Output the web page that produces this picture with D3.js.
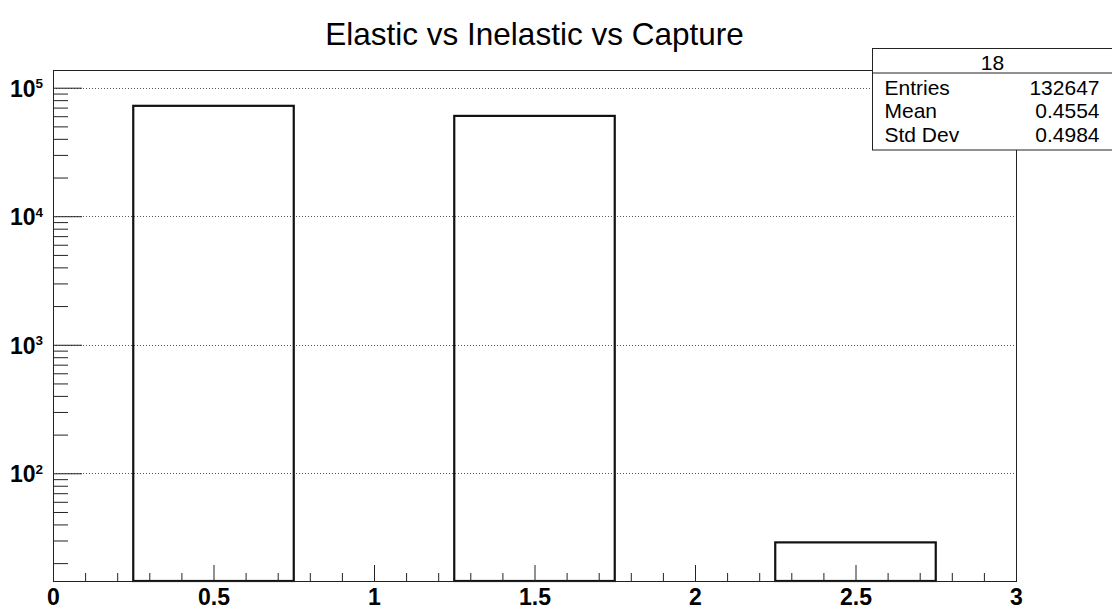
<!DOCTYPE html>
<html>
<head>
<meta charset="utf-8">
<script src="https://cdn.jsdelivr.net/npm/d3@7"></script>
<style>
  body { margin: 0; background: #fff; }
  svg { display: block; font-family: "Liberation Sans", Arial, Helvetica, sans-serif; }
</style>
</head>
<body>
<div id="chart"></div>
<script>
// histogram content (bin centre, count)
const binCenters = [0.5, 1.5, 2.5];
const binCounts = [72269, 60349, 29];
const barWidth = 0.5;

const xMajorTicks = [0, 0.5, 1, 1.5, 2, 2.5, 3];
const xTickLabels = ["0", "0.5", "1", "1.5", "2", "2.5", "3"];
const yDecades = [2, 3, 4, 5];

const statsTitle = "18";
const statNames = ["Entries", "Mean", "Std Dev"];
const statValues = ["132647", "0.4554", "0.4984"];

const title = "Elastic vs Inelastic vs Capture";

var W = 1112, H = 610;
var margin = {top: 70, right: 96, bottom: 29, left: 53};
var width = W - margin.left - margin.right,
    height = H - margin.top - margin.bottom;

var graph = d3.select("#chart").append("svg")
    .attr("width", W)
    .attr("height", H);

var svg = graph.append("g")
    .attr("transform", "translate(" + margin.left + "," + margin.top + ")");

var x = d3.scaleLinear().domain([0, 3]).range([0, width]);
var y = d3.scaleLog().domain([14.52, 137300]).range([height, 0]);

// dotted grid at decades
svg.selectAll(".grid")
    .data(yDecades)
    .enter().append("line")
      .attr("class", "grid")
      .attr("x1", 0).attr("x2", width)
      .attr("y1", function(d) { return Math.round(y(Math.pow(10, d))) + 0.5; })
      .attr("y2", function(d) { return Math.round(y(Math.pow(10, d))) + 0.5; })
      .attr("stroke", "#555")
      .attr("stroke-width", 1)
      .attr("stroke-dasharray", "1,2");

// bars
svg.selectAll(".bar")
    .data(binCenters)
    .enter().append("rect")
      .attr("class", "bar")
      .attr("x", function(d) { return x(d - barWidth / 2); })
      .attr("width", function(d) { return x(d + barWidth / 2) - x(d - barWidth / 2); })
      .attr("y", function(d, i) { return y(binCounts[i]); })
      .attr("height", function(d, i) { return height - y(binCounts[i]); })
      .attr("fill", "none")
      .attr("stroke", "#111")
      .attr("stroke-width", 2.2);

// x axis ticks: minor every 0.1, major every 0.5
var xMinor = d3.range(0, 31).map(function(i) { return i / 10; })
    .filter(function(v) { return Math.abs(v * 2 - Math.round(v * 2)) > 1e-6; });

svg.append("g")
    .attr("transform", "translate(0," + height + ")")
    .call(d3.axisBottom(x).tickValues(xMinor).tickSize(-8).tickFormat(""))
    .call(function(g) { g.select(".domain").remove(); });

var xAxis = svg.append("g")
    .attr("transform", "translate(0," + height + ")")
    .call(d3.axisBottom(x).tickValues(xMajorTicks).tickSize(-16).tickPadding(8)
          .tickFormat(function(d, i) { return xTickLabels[i]; }));
xAxis.select(".domain").remove();
xAxis.selectAll("text")
    .attr("font-size", 23)
    .attr("font-weight", "bold")
    .attr("fill", "#000")
    .attr("font-family", "Liberation Sans, Arial, sans-serif");

// y axis ticks: minor at 2..9 x 10^k, major at decades
var yMinor = [];
[1, 2, 3, 4, 5].forEach(function(k) {
  for (var m = 2; m <= 9; m++) {
    var v = m * Math.pow(10, k);
    if (v >= y.domain()[0] && v <= y.domain()[1]) yMinor.push(v);
  }
});

svg.append("g")
    .call(d3.axisLeft(y).tickValues(yMinor).tickSize(-15).tickFormat(""))
    .call(function(g) { g.select(".domain").remove(); });

var yAxis = svg.append("g")
    .call(d3.axisLeft(y).tickValues(yDecades.map(function(d) { return Math.pow(10, d); }))
          .tickSize(-29).tickPadding(0).tickFormat(""));
yAxis.select(".domain").remove();
yAxis.selectAll(".tick").each(function(d) {
  var t = d3.select(this).append("text")
      .attr("x", -10)
      .attr("y", 8.5)
      .attr("text-anchor", "end")
      .attr("fill", "#000")
      .attr("font-weight", "bold");
  t.append("tspan").attr("font-size", 23).text("10");
  t.append("tspan").attr("font-size", 13.5).attr("dy", -8.5)
      .text(Math.round(Math.log10(d)));
});

svg.selectAll(".tick line").attr("stroke", "#222");

// frame
svg.append("rect")
    .attr("x", 0.5).attr("y", 0.5)
    .attr("width", width).attr("height", height)
    .attr("fill", "none")
    .attr("stroke", "#222")
    .attr("stroke-width", 1);

// title
graph.append("text")
    .attr("x", margin.left + width / 2)
    .attr("y", 45)
    .attr("text-anchor", "middle")
    .attr("font-size", 31.5)
    .attr("fill", "#000")
    .text(title);

// stats box
var sb = graph.append("g").attr("transform", "translate(872.5,48.5)");
var sbW = 240, sbH = 101.5;
sb.append("rect")
    .attr("width", sbW).attr("height", sbH)
    .attr("fill", "#fff").attr("stroke", "#222").attr("stroke-width", 1);
sb.append("line")
    .attr("x1", 0).attr("x2", sbW).attr("y1", 24.5).attr("y2", 24.5)
    .attr("stroke", "#222");
sb.append("text")
    .attr("x", 120).attr("y", 21)
    .attr("text-anchor", "middle")
    .attr("font-size", 21)
    .text(statsTitle);
statNames.forEach(function(n, i) {
  sb.append("text")
      .attr("x", 12).attr("y", 46 + i * 23.7)
      .attr("font-size", 21)
      .text(n);
  sb.append("text")
      .attr("x", 227).attr("y", 46 + i * 23.7)
      .attr("text-anchor", "end")
      .attr("font-size", 21)
      .text(statValues[i]);
});
</script>
</body>
</html>
